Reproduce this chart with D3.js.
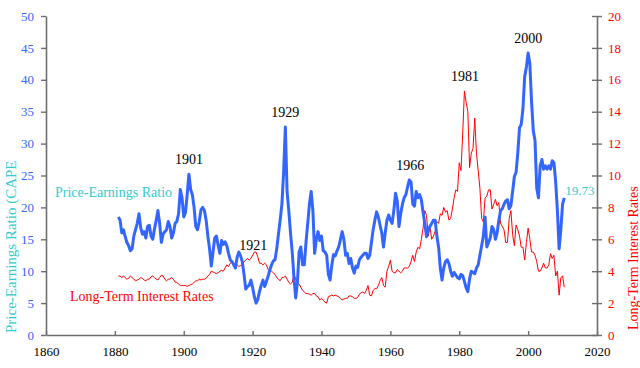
<!DOCTYPE html>
<html>
<head>
<meta charset="utf-8">
<script src="https://cdn.jsdelivr.net/npm/d3@7"></script>
<style>
  body { margin: 0; background: #fff; }
  svg text { font-family: "Liberation Serif", "DejaVu Serif", serif; }
</style>
</head>
<body>
<div id="chart"></div>
<script>
// semi-annual readings (Jan, Jul) starting 1881
const startYear = 1881;
const cape = [
  18.5, 18.0, 16.0, 16.5, 15.4, 14.5, 14.0, 13.2, 13.5, 15.5,
  16.5, 17.5, 19.0, 16.8, 15.8, 16.2, 15.2, 17.0, 17.2, 15.5,
  15.0, 16.6, 18.0, 19.5, 17.5, 14.5, 15.8, 16.2, 16.5, 17.8,
  17.0, 15.2, 16.0, 17.5, 17.8, 19.0, 22.8, 21.5, 18.5, 19.2,
  22.0, 25.2, 22.8, 22.0, 20.0, 17.0, 16.5, 17.8, 19.6, 20.0,
  19.5, 18.0, 15.5, 13.5, 10.8, 13.0, 15.2, 15.5, 14.0, 12.8,
  14.8, 14.2, 14.6, 14.0, 12.8, 11.8, 11.5, 11.0, 10.5, 12.2,
  13.0, 12.4, 11.5, 9.5, 7.2, 7.6, 7.8, 8.6, 7.4, 6.0,
  5.0, 5.6, 6.8, 7.8, 8.6, 7.6, 8.4, 9.2, 10.2, 11.0,
  11.6, 11.8, 13.5, 15.8, 18.0, 20.5, 25.5, 32.6, 22.5, 19.5,
  16.0, 13.0, 9.0, 5.8, 8.2, 13.0, 13.8, 11.0, 11.0, 14.5,
  17.5, 20.5, 22.5, 19.5, 12.8, 15.0, 16.2, 14.8, 15.5, 13.2,
  13.0, 12.5, 9.5, 8.6, 11.0, 12.6, 12.4, 13.2, 13.8, 15.0,
  16.2, 15.0, 12.5, 12.8, 11.2, 12.0, 10.5, 9.7, 10.8, 10.6,
  11.8, 12.2, 12.5, 12.8, 12.8, 12.0, 12.5, 14.5, 16.5, 18.0,
  19.3, 18.5, 17.2, 16.0, 13.8, 16.0, 18.0, 18.8, 18.0, 17.5,
  19.5, 22.2, 21.0, 17.0, 19.0, 20.5, 21.5, 22.0, 23.2, 24.3,
  24.0, 20.5, 20.2, 22.5, 21.5, 22.0, 21.2, 19.2, 17.5, 15.4,
  16.5, 17.0, 17.5, 18.0, 18.0, 15.5, 13.8, 10.5, 8.6, 10.5,
  11.5, 11.8, 11.2, 10.0, 9.2, 9.8, 9.4, 9.0, 8.8, 9.5,
  9.3, 8.4, 7.4, 6.8, 8.8, 10.0, 9.8, 9.6, 10.5, 11.0,
  12.5, 14.0, 15.5, 18.5, 13.8, 14.5, 15.2, 17.0, 16.5, 15.0,
  16.0, 18.0, 19.5, 19.8, 20.5, 21.0, 21.2, 19.8, 20.3, 22.5,
  24.8, 25.5, 28.5, 32.5, 33.0, 35.5, 40.5, 42.0, 44.2, 42.5,
  36.5, 32.0, 30.5, 23.0, 21.5, 26.5, 27.5, 26.0, 26.5, 26.0,
  26.5, 26.0, 27.3, 27.0, 24.0, 19.5, 13.5, 16.5, 20.5, 21.5
];
const rates = [
  3.7, 3.7, 3.6, 3.7, 3.6, 3.5, 3.55, 3.7, 3.6, 3.5,
  3.4, 3.45, 3.5, 3.6, 3.55, 3.45, 3.4, 3.5, 3.5, 3.65,
  3.7, 3.6, 3.5, 3.45, 3.6, 3.75, 3.7, 3.5, 3.4, 3.5,
  3.5, 3.6, 3.5, 3.3, 3.3, 3.2, 3.1, 3.1, 3.1, 3.1,
  3.05, 3.1, 3.15, 3.2, 3.3, 3.4, 3.4, 3.5, 3.45, 3.5,
  3.5, 3.55, 3.7, 3.8, 4.0, 3.95, 3.9, 3.85, 3.9, 4.0,
  4.05, 4.0, 4.2, 4.4, 4.3, 4.5, 4.6, 4.4, 4.5, 4.4,
  4.3, 4.35, 4.4, 4.6, 4.7, 4.8, 4.7, 4.8, 5.0, 5.2,
  5.2, 4.9, 4.5, 4.5, 4.4, 4.5, 4.4, 4.1, 4.0, 4.0,
  3.9, 3.8, 3.6, 3.5, 3.4, 3.6, 3.6, 3.7, 3.5, 3.3,
  3.2, 3.3, 3.8, 3.5, 3.3, 3.2, 3.0, 2.8, 2.7, 2.6,
  2.6, 2.55, 2.5, 2.6, 2.6, 2.45, 2.4, 2.2, 2.3, 2.2,
  2.05, 2.0, 2.4, 2.45, 2.5, 2.45, 2.5, 2.45, 2.4, 2.3,
  2.2, 2.25, 2.3, 2.3, 2.45, 2.45, 2.4, 2.3, 2.3, 2.35,
  2.55, 2.65, 2.7, 2.6, 2.8, 3.1, 2.5, 2.45, 2.8, 2.9,
  2.9, 3.1, 3.4, 3.6, 3.1, 3.0, 4.0, 4.3, 4.7, 4.0,
  3.9, 3.9, 4.1, 4.0, 3.9, 4.0, 4.2, 4.2, 4.2, 4.3,
  4.6, 5.0, 4.6, 5.2, 5.5, 5.4, 6.0, 6.7, 7.8, 7.5,
  6.2, 6.8, 6.0, 6.2, 6.5, 7.1, 7.0, 7.6, 7.5, 8.0,
  7.7, 7.8, 7.2, 7.3, 7.9, 8.6, 9.1, 9.0, 10.8, 10.3,
  12.6, 15.3, 14.6, 14.0, 10.5, 11.4, 11.7, 13.6, 11.4, 10.3,
  9.2, 7.3, 7.1, 8.6, 8.7, 9.1, 9.1, 7.9, 8.2, 8.5,
  8.1, 8.3, 7.0, 6.8, 6.6, 5.8, 5.8, 7.3, 7.8, 6.3,
  5.6, 6.9, 6.6, 6.2, 5.5, 5.5, 4.7, 5.8, 6.7, 6.0,
  5.2, 5.2, 5.0, 4.6, 4.0, 4.0, 4.2, 4.5, 4.2, 4.2,
  4.4, 5.1, 4.8, 5.0, 3.7, 4.0, 2.5, 3.6, 3.7, 3.0
];
const years = cape.map((d, i) => startYear + i / 2);

const xTicks = [1860, 1880, 1900, 1920, 1940, 1960, 1980, 2000, 2020];
const leftTicks = [0, 5, 10, 15, 20, 25, 30, 35, 40, 45, 50];
const rightTicks = [0, 2, 4, 6, 8, 10, 12, 14, 16, 18, 20];

const peaks = [
  { label: "1901", year: 1901.5, value: 25.2 },
  { label: "1921", year: 1920.2, value: 11.7 },
  { label: "1929", year: 1929.5, value: 32.6 },
  { label: "1966", year: 1965.8, value: 24.3 },
  { label: "2000", year: 2000, value: 44.2 }
];
const lastValue = "19.73";

const margin = {top: 16, right: 43, bottom: 33, left: 46},
    width = 640 - margin.left - margin.right,
    height = 368 - margin.top - margin.bottom;

const svg = d3.select("#chart").append("svg")
    .attr("width", 640)
    .attr("height", 368)
    .append("g")
    .attr("transform", `translate(${margin.left}, ${margin.top})`);

const x = d3.scaleLinear().domain([1860, 2020]).range([0, width]);
const yL = d3.scaleLinear().domain([0, 50]).range([height, 0]);
const yR = d3.scaleLinear().domain([0, 20]).range([height, 0]);

function styleAxis(g, color) {
    g.select(".domain").attr("stroke", "#6e6e6e").attr("stroke-width", 1.6);
    g.selectAll(".tick line").attr("stroke", "#6e6e6e").attr("stroke-width", 1.4);
    g.selectAll("text").attr("fill", color).style("font-size", "13px");
}

svg.append("g")
    .attr("transform", `translate(0, ${height})`)
    .call(d3.axisBottom(x).tickValues(xTicks).tickFormat(d3.format("d"))
        .tickSizeInner(-4).tickSizeOuter(0).tickPadding(12))
    .call(g => styleAxis(g, "#000"));

svg.append("g")
    .call(d3.axisLeft(yL).tickValues(leftTicks).tickSizeInner(5).tickSizeOuter(0).tickPadding(7))
    .call(g => styleAxis(g, "#3366ff"));

const rAxis = svg.append("g")
    .attr("transform", `translate(${width}, 0)`)
    .call(d3.axisRight(yR).tickValues(rightTicks).tickSizeInner(5).tickSizeOuter(0).tickPadding(6))
    .call(g => styleAxis(g, "#ff0000"));
rAxis.selectAll(".tick line").attr("x1", -5);

svg.append("path")
    .datum(rates)
    .attr("fill", "none")
    .attr("stroke", "#ff0000")
    .attr("stroke-width", 1)
    .attr("d", d3.line().x((d, i) => x(years[i])).y(d => yR(d)));

svg.append("path")
    .datum(cape)
    .attr("fill", "none")
    .attr("stroke", "#3366ff")
    .attr("stroke-width", 3)
    .attr("stroke-linejoin", "round")
    .attr("d", d3.line().x((d, i) => x(years[i])).y(d => yL(d)));

// peak annotations
svg.selectAll(".peak")
    .data(peaks)
    .enter().append("text")
    .attr("x", d => x(d.year))
    .attr("y", d => yL(d.value) - 10)
    .attr("text-anchor", "middle")
    .style("font-size", "14px")
    .attr("fill", "#000")
    .text(d => d.label);

svg.append("text")
    .attr("x", x(1981.7))
    .attr("y", yR(15.3) - 10)
    .attr("text-anchor", "middle")
    .style("font-size", "14px")
    .attr("fill", "#000")
    .text("1981");

svg.append("text")
    .attr("x", x(2010.8))
    .attr("y", yL(21.5) - 3)
    .style("font-size", "13px")
    .attr("fill", "#33cccc")
    .text(lastValue);

svg.append("text")
    .attr("x", 9)
    .attr("y", yL(22.3) + 4)
    .style("font-size", "14px")
    .attr("fill", "#33cccc")
    .text("Price-Earnings Ratio");

svg.append("text")
    .attr("x", 24)
    .attr("y", yR(2.45) + 5)
    .style("font-size", "14px")
    .attr("fill", "#ff0000")
    .text("Long-Term Interest Rates");

svg.append("text")
    .attr("transform", `translate(${-30}, ${height - 2}) rotate(-90)`)
    .style("font-size", "15px")
    .attr("fill", "#33cccc")
    .text("Price-Earnings Ratio (CAPE");

svg.append("text")
    .attr("transform", `translate(${width + 41}, ${height - 5}) rotate(-90)`)
    .style("font-size", "14px")
    .attr("fill", "#ff0000")
    .text("Long-Term Interest Rates");
</script>
</body>
</html>
